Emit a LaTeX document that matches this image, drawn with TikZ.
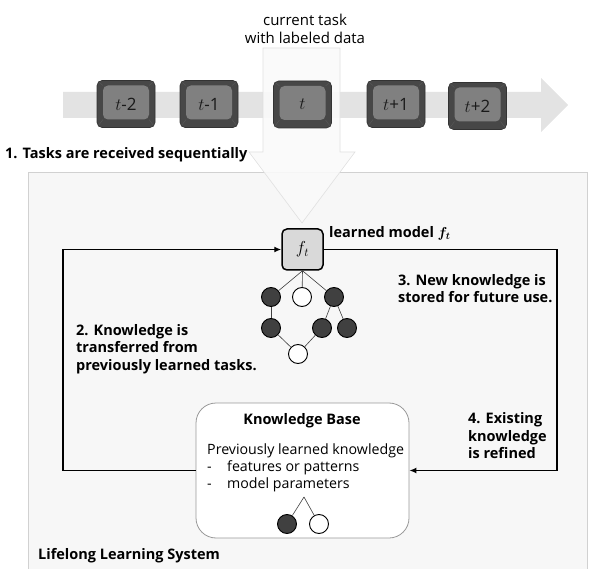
\documentclass[tikz,border=0pt]{standalone}
\usepackage{amsmath}
\usepackage{bm}
\usepackage{fontspec}
\setmainfont{Open Sans}
\usetikzlibrary{positioning}
\usetikzlibrary{arrows.meta}
\definecolor{keyrim}{HTML}{474747}
\definecolor{keyface}{HTML}{808080}
\definecolor{bandgray}{HTML}{E3E3E3}
\definecolor{sysfill}{HTML}{F7F7F7}
\definecolor{darkleaf}{HTML}{404040}
\tikzset{
    taskkey/.style={ % Keycap look for one task
        draw=black!80,
        line width=0.6pt,
        fill=keyrim,
        rounded corners=5pt,
        minimum width=58pt,
        minimum height=47pt,
        inner sep=0pt,
        text=black!90,
        font=\fontsize{17}{19}\selectfont,
        path picture={
            \fill[keyface] ([shift={(6pt,-5pt)}]path picture bounding box.north west)
                rectangle ([shift={(-6pt,8pt)}]path picture bounding box.south east);
            % bevel edges of the cap
            \draw[black!65,line width=0.4pt]
                (path picture bounding box.north west) -- ([shift={(6pt,-5pt)}]path picture bounding box.north west)
                (path picture bounding box.north east) -- ([shift={(-6pt,-5pt)}]path picture bounding box.north east)
                (path picture bounding box.south west) -- ([shift={(6pt,8pt)}]path picture bounding box.south west)
                (path picture bounding box.south east) -- ([shift={(-6pt,8pt)}]path picture bounding box.south east);
        }
    },
    leaf/.style={circle,draw=black,line width=0.9pt,minimum size=19pt,inner sep=0pt},
    dark/.style={leaf,fill=darkleaf},
    light/.style={leaf,fill=white},
    twig/.style={draw=black!75,line width=0.6pt},
    flow/.style={draw,line width=1.6pt,-{Latex[length=7pt,width=6pt]}},
    note/.style={font=\fontsize{14.5}{17.5}\selectfont\bfseries,align=left,anchor=west,inner sep=0pt}
}
\begin{document}
\begin{tikzpicture}[x=1pt,y=-1pt]
\useasboundingbox (0,0) rectangle (589,569);

% system frame
\fill[sysfill,draw=black!18,line width=0.8pt] (28,172) rectangle (587,575);

% timeline band
\fill[bandgray] (63,92) -- (541,92) -- (541,78) -- (568,105) -- (541,132) -- (541,118) -- (63,118) -- cycle;

% incoming task arrow
\fill[gray!4,fill opacity=0.9,draw=black!12,line width=0.6pt]
    (263,48) -- (340,48) -- (340,152) -- (355,152) -- (302,223) -- (249,152) -- (263,152) -- cycle;

\node[font=\fontsize{15}{18}\selectfont,align=center] (cur) at (305,29) {current task\\with labeled data};

\node [taskkey] (tm2) at (126,104) {$t$-2};
\node [taskkey] (tm1) at (209,104) {$t$-1};
\node [taskkey] (tc)  at (302.5,104.5) {$t$};
\node [taskkey] (tp1) at (396,104) {$t$+1};
\node [taskkey] (tp2) at (477.5,106) {$t$+2};

\node[note] (recv) at (5,155) {1. Tasks are received sequentially};

% learned model and its tree
\node[draw,line width=1.5pt,fill=black!15,rounded corners=5pt,minimum size=41pt,inner sep=0pt,font=\fontsize{18}{18}\selectfont]
    (ft) at (302.5,249.5) {$f_t$};
\node[note] (model) at (329,233) {learned model $\bm{f_t}$};

\node[dark]  (a) at (271,297) {};
\node[light] (b) at (302,297) {};
\node[dark]  (c) at (334,297) {};
\node[dark]  (d) at (271,328) {};
\node[dark]  (e) at (322,328) {};
\node[dark]  (f) at (347,328) {};
\node[light] (g) at (298,354) {};

\draw[twig]
    (ft.south) edge (a) (ft.south) edge (b) (ft.south) edge (c)
    (a) edge (d) (d) edge (g) (g) edge (e)
    (c) edge (e) (c) edge (f);

% knowledge base
\node[draw=black!40,line width=0.8pt,fill=white,rounded corners=20pt,minimum width=213pt,minimum height=135pt]
    (kb) at (302.5,470.5) {};
\node[font=\fontsize{14.5}{15}\selectfont\bfseries] (kbtitle) at (302,421) {Knowledge Base};
\node[font=\fontsize{14.2}{17}\selectfont,align=left,anchor=west,inner sep=0pt] (kbtext) at (207,468)
    {Previously learned knowledge\\\makebox[20pt][l]{-}features or patterns\\\makebox[20pt][l]{-}model parameters};
\coordinate (kbroot) at (304,497);
\node[dark]  (kba) at (287,524) {};
\node[light] (kbb) at (319,524) {};
\draw[twig] (kbroot) edge (kba) (kbroot) edge (kbb);

% transfer and refinement loop
\coordinate (lcorner) at (63,470.5);
\coordinate (rcorner) at (557,470.5);
\draw[flow] (kb.west) -- (lcorner) |- (ft.west);
\draw[flow] (ft.east) -| (rcorner) -- (kb.east);

\node[note] (store) at (398,288.5) {3. New knowledge is\\stored for future use.};
\node[note] (transfer) at (76,349) {2. Knowledge is\\transferred from\\previously learned tasks.};
\node[note] (refine) at (468,436) {4. Existing\\knowledge\\is refined};
\node[note] (sys) at (38,556) {Lifelong Learning System};
\end{tikzpicture}
\end{document}
